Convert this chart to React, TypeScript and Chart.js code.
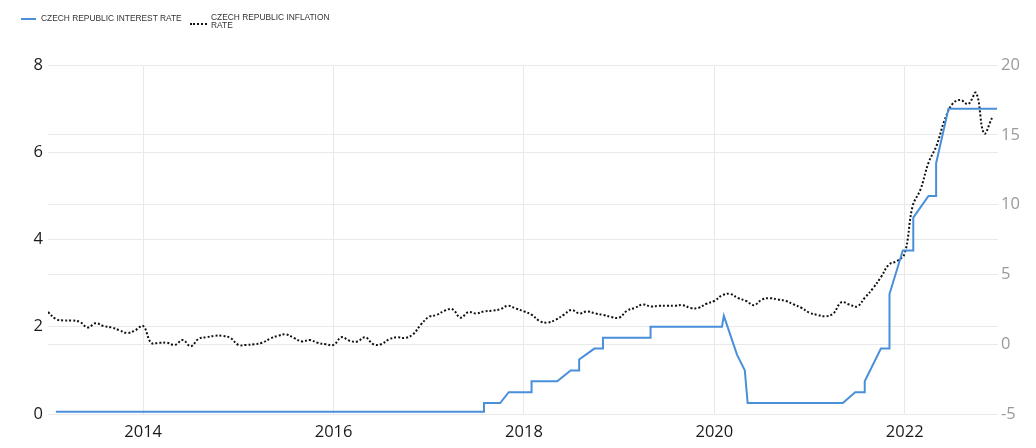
import React, { useEffect, useRef } from "react";
import { Chart, registerables } from "chart.js";

Chart.register(...registerables);

// Monthly inflation (YoY %), first value = Dec 2012, plotted at month end
const inflationStartYear = 2013.0;
const inflationRate = [
  2.3,
  1.8, 1.7, 1.7, 1.6, 1.2, 1.5, 1.3, 1.2, 1.0, 0.8, 1.0, 1.3,
  0.1, 0.1, 0.1, -0.05, 0.3, -0.15, 0.4, 0.5, 0.6, 0.6, 0.45, -0.05,
  -0.05, 0.0, 0.1, 0.4, 0.6, 0.7, 0.45, 0.2, 0.3, 0.1, 0.0, -0.05,
  0.5, 0.25, 0.2, 0.5, 0.0, 0.0, 0.35, 0.5, 0.45, 0.7, 1.4, 1.95,
  2.1, 2.4, 2.5, 1.9, 2.3, 2.2, 2.35, 2.4, 2.5, 2.75, 2.55, 2.35,
  2.1, 1.65, 1.55, 1.75, 2.1, 2.45, 2.2, 2.35, 2.2, 2.1, 1.95, 1.9,
  2.4, 2.6, 2.85, 2.7, 2.75, 2.75, 2.75, 2.8, 2.6, 2.6, 2.9, 3.1,
  3.5, 3.6, 3.3, 3.1, 2.8, 3.2, 3.3, 3.2, 3.1, 2.85, 2.6, 2.25,
  2.1, 2.0, 2.2, 3.0, 2.85, 2.7, 3.35, 4.0, 4.8, 5.7, 5.95, 6.5,
  9.9, 11.1, 13.0, 14.2, 16.0, 17.2, 17.5, 17.2, 18.0, 15.1, 16.2,
];

// Interest rate change points (decimal year, %)
const interestDates = [
  2013.083, 2017.58, 2017.58, 2017.75, 2017.84, 2018.08, 2018.08, 2018.35, 2018.49,
  2018.58, 2018.58, 2018.74, 2018.83, 2018.83, 2019.33, 2019.33, 2020.08, 2020.1,
  2020.24, 2020.32, 2020.35, 2021.35, 2021.48, 2021.58, 2021.58, 2021.75, 2021.84,
  2021.84, 2021.98, 2022.09, 2022.09, 2022.25, 2022.33, 2022.33, 2022.46, 2022.97,
];
const interestRate = [
  0.05, 0.05, 0.25, 0.25, 0.5, 0.5, 0.75, 0.75, 1.0,
  1.0, 1.25, 1.5, 1.5, 1.75, 1.75, 2.0, 2.0, 2.25,
  1.35, 1.0, 0.25, 0.25, 0.5, 0.5, 0.75, 1.5, 1.5,
  2.75, 3.75, 3.75, 4.5, 5.0, 5.0, 5.75, 7.0, 7.0,
];

const xTickYears = [2014, 2016, 2018, 2020, 2022];
const leftTicks = [0, 2, 4, 6, 8];
const rightTicks = [-5, 0, 5, 10, 15, 20];

const seriesNames = ["CZECH REPUBLIC INTEREST RATE", "CZECH REPUBLIC INFLATION RATE"];

const BLUE = "#4a8fd9";
const GRID = "#e9e9e9";
const TICK_FONT = { family: "'Open Sans', 'Noto Sans', sans-serif", size: 16.5 };

export default function App() {
  const canvasRef = useRef<HTMLCanvasElement | null>(null);

  useEffect(() => {
    const canvas = canvasRef.current;
    if (!canvas) return;
    const inflationPoints = inflationRate.map((v, i) => ({ x: inflationStartYear + i / 12, y: v }));
    const interestPoints = interestRate.map((v, i) => ({ x: interestDates[i], y: v }));

    const chart = new Chart(canvas, {
      type: "line",
      data: {
        datasets: [
          {
            label: seriesNames[0],
            data: interestPoints,
            yAxisID: "y",
            borderColor: BLUE,
            borderWidth: 2,
            pointRadius: 0,
            tension: 0,
            fill: false,
          },
          {
            label: seriesNames[1],
            data: inflationPoints,
            yAxisID: "y2",
            borderColor: "#111",
            borderWidth: 2,
            borderDash: [2, 2],
            pointRadius: 0,
            tension: 0.4,
            fill: false,
          },
        ],
      },
      options: {
        responsive: false,
        animation: false,
        layout: { padding: { top: 65, left: 0, right: 0, bottom: 0 } },
        plugins: { legend: { display: false }, tooltip: { enabled: false } },
        scales: {
          x: {
            type: "linear",
            min: 2013.0,
            max: 2022.98,
            border: { display: false },
            grid: { color: GRID, drawTicks: false },
            ticks: {
              padding: 8,
              color: "#1a1a1a",
              font: TICK_FONT,
              callback: (v: any) => String(v),
            },
            afterBuildTicks: (axis: any) => {
              axis.ticks = xTickYears.map((v) => ({ value: v }));
            },
            afterFit: (axis: any) => {
              axis.height = 34;
            },
          },
          y: {
            position: "left",
            min: 0,
            max: 8,
            border: { display: false },
            grid: { color: GRID, drawTicks: false },
            ticks: { padding: 5, color: "#1a1a1a", font: TICK_FONT },
            afterBuildTicks: (axis: any) => {
              axis.ticks = leftTicks.map((v) => ({ value: v }));
            },
            afterFit: (axis: any) => {
              axis.width = 48;
            },
          },
          y2: {
            position: "right",
            min: -5,
            max: 20,
            border: { display: false },
            grid: { color: GRID, drawTicks: false },
            ticks: { padding: 3, color: "#9a9a9a", font: TICK_FONT },
            afterBuildTicks: (axis: any) => {
              axis.ticks = rightTicks.map((v) => ({ value: v }));
            },
            afterFit: (axis: any) => {
              axis.width = 38;
            },
          },
        },
      },
    });
    return () => chart.destroy();
  }, []);

  const legendFont: React.CSSProperties = {
    position: "absolute",
    fontFamily: "'Liberation Sans', Arial, sans-serif",
    fontSize: "8.4px",
    lineHeight: "8px",
    color: "#333",
    whiteSpace: "nowrap",
  };

  return (
    <div style={{ position: "absolute", left: 0, top: 0, width: 1036, height: 448, background: "#fff" }}>
      <canvas ref={canvasRef} width={1036} height={448} style={{ display: "block", width: 1036, height: 448 }} />
      <div style={{ position: "absolute", left: 21, top: 17.7, width: 15, height: 2, background: BLUE }} />
      <div style={{ ...legendFont, left: 41, top: 13.6 }}>{seriesNames[0]}</div>
      <div style={{ position: "absolute", left: 190, top: 23, width: 17, height: 0, borderTop: "2px dotted #111" }} />
      <div style={{ ...legendFont, left: 211, top: 12.9 }}>
        CZECH REPUBLIC INFLATION
        <br />
        RATE
      </div>
    </div>
  );
}
